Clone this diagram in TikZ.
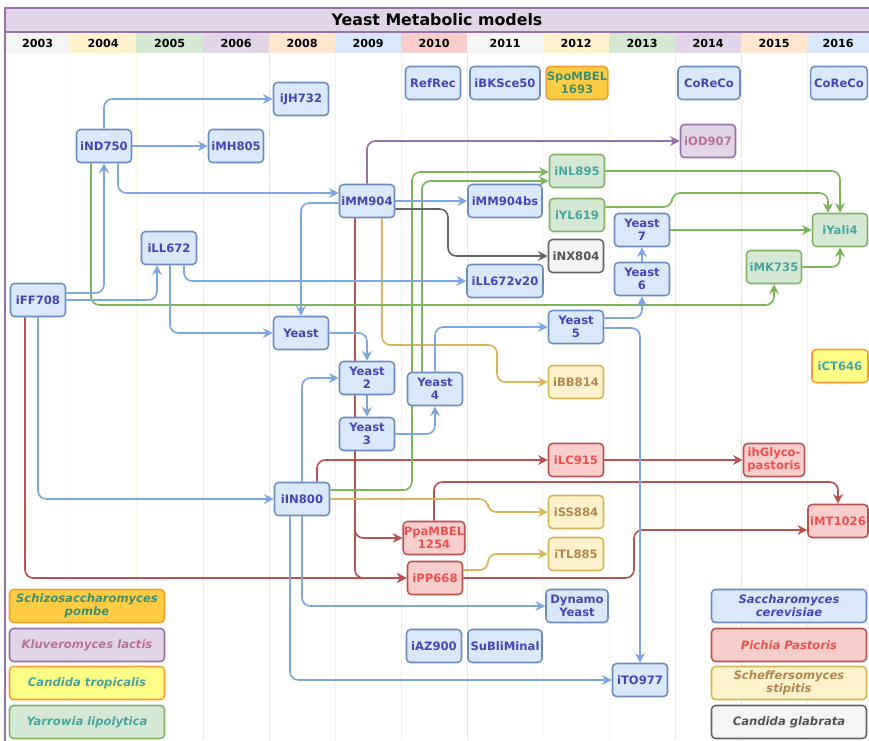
\documentclass[tikz,border=0pt]{standalone}
\usepackage{fontspec}
\setmainfont{DejaVu Sans}
\usepackage{xcolor}
\usepackage{tikz}
\usetikzlibrary{arrows.meta,positioning,calc}

\definecolor{scfill}{HTML}{DAE8FC}
\definecolor{scdraw}{HTML}{6C8EBF}
\definecolor{sctext}{HTML}{4646B4}
\definecolor{scarrow}{HTML}{7EA6E0}
\definecolor{ppfill}{HTML}{F8CECC}
\definecolor{ppdraw}{HTML}{B85450}
\definecolor{pptext}{HTML}{F05050}
\definecolor{ssfill}{HTML}{FFF2CC}
\definecolor{ssdraw}{HTML}{D6B656}
\definecolor{sstext}{HTML}{B08850}
\definecolor{ylfill}{HTML}{D5E8D4}
\definecolor{yldraw}{HTML}{82B366}
\definecolor{yltext}{HTML}{4AA5A0}
\definecolor{ylarrow}{HTML}{7CB65A}
\definecolor{klfill}{HTML}{E1D5E7}
\definecolor{kldraw}{HTML}{9673A6}
\definecolor{kltext}{HTML}{B5739D}
\definecolor{cgfill}{HTML}{F5F5F5}
\definecolor{cgdraw}{HTML}{666666}
\definecolor{cgtext}{HTML}{555555}
\definecolor{spfill}{HTML}{FFCC44}
\definecolor{spdraw}{HTML}{F0A030}
\definecolor{sptext}{HTML}{3F8F6F}
\definecolor{ctfill}{HTML}{FFFF88}
\definecolor{ctdraw}{HTML}{FF9933}
\definecolor{orfill}{HTML}{FFE6CC}

\pgfdeclarelayer{bg}
\pgfdeclarelayer{links}
\pgfsetlayers{bg,links,main}

\newcommand{\modelfont}{\fontsize{9.9}{11}\selectfont\bfseries}
\newcommand{\legendfont}{\fontsize{9.9}{11}\selectfont\bfseries\itshape}

\tikzset{
  model/.style={rectangle, rounded corners=1.2mm, line width=1.3pt, minimum width=16.5mm,
    minimum height=9.9mm, inner sep=0.5pt, align=center, font=\modelfont},
  sc/.style={model, draw=scdraw, fill=scfill, text=sctext},
  pp/.style={model, draw=ppdraw, fill=ppfill, text=pptext},
  ss/.style={model, draw=ssdraw, fill=ssfill, text=sstext},
  yl/.style={model, draw=yldraw, fill=ylfill, text=yltext},
  kl/.style={model, draw=kldraw, fill=klfill, text=kltext},
  cg/.style={model, draw=cgdraw, fill=cgfill, text=cgtext},
  sp/.style={model, draw=spdraw, fill=spfill, text=sptext},
  ct/.style={model, draw=ctdraw, fill=ctfill, text=yltext},
  legend/.style={minimum width=46.5mm, minimum height=9.9mm, font=\legendfont},
  year/.style={font=\fontsize{9.5}{10}\selectfont\bfseries},
  link/.style={line width=1.4pt, rounded corners=2.5mm, -{Stealth[length=2.9mm,width=2.9mm]}},
  sclink/.style={link, draw=scarrow},
  pplink/.style={link, draw=ppdraw},
  sslink/.style={link, draw=ssdraw},
  yllink/.style={link, draw=ylarrow},
  kllink/.style={link, draw=kldraw},
  cglink/.style={link, draw=cgdraw}
}

\begin{document}
\begin{tikzpicture}[x=0.3mm, y=-0.3mm]
    \useasboundingbox (0,0) rectangle (869,740);

    \begin{pgfonlayer}{bg}
    \fill[white] (0,0) rectangle (869,740);
    \foreach \yr/\xa/\xb/\col in {2003/5/70/cgfill, 2004/70/136/ssfill, 2005/136/203/ylfill,
        2006/203/269/klfill, 2008/269/335/orfill, 2009/335/401/scfill, 2010/401/467/ppfill,
        2011/467/543/cgfill, 2012/543/609/ssfill, 2013/609/675/ylfill, 2014/675/741/klfill,
        2015/741/807/orfill, 2016/807/869/scfill} {
      \fill[\col] (\xa,32) rectangle (\xb,53);
      \draw[\col!70, line width=0.8pt] (\xb,53) -- (\xb,740);
      \node[year] (y\yr) at ({(\xa+\xb)/2},43) {\yr};
    }
    \draw[kldraw, fill=klfill, line width=1.3pt] (5,8) rectangle (880,32);
    \draw[kldraw, line width=1.3pt] (5,32) -- (5,742);
    \end{pgfonlayer}
    \node[font=\fontsize{13.5}{15}\selectfont\bfseries] (title) at (437,20) {Yeast Metabolic models};

    \node[sc] (iJH732) at (301,99) {iJH732};
    \node[sc] (RefRec) at (433,83) {RefRec};
    \node[sc, minimum width=21mm] (iBKSce50) at (505,83) {iBKSce50};
    \node[sp, minimum width=18.3mm] (SpoMBEL) at (577,83) {SpoMBEL\\1693};
    \node[sc, minimum width=18.6mm] (CoReCoA) at (709,83) {CoReCo};
    \node[sc, minimum width=17mm] (CoReCoB) at (839,83) {CoReCo};
    \node[sc] (iND750) at (104,146) {iND750};
    \node[sc] (iMH805) at (236,146) {iMH805};
    \node[kl] (iOD907) at (708,141) {iOD907};
    \node[yl] (iNL895) at (577,171) {iNL895};
    \node[sc] (iMM904) at (367,201) {iMM904};
    \node[sc, minimum width=22.2mm] (iMM904bs) at (505,201) {iMM904bs};
    \node[yl] (iYL619) at (577,215) {iYL619};
    \node[sc] (Yeast7) at (642,230) {Yeast\\7};
    \node[yl] (iYali4) at (840,230) {iYali4};
    \node[sc] (iLL672) at (169,248) {iLL672};
    \node[cg] (iNX804) at (576,256) {iNX804};
    \node[yl] (iMK735) at (774,267) {iMK735};
    \node[sc] (Yeast6) at (642,279) {Yeast\\6};
    \node[sc, minimum width=22.8mm] (iLL672v20) at (505,281) {iLL672v20};
    \node[sc] (iFF708) at (38,300) {iFF708};
    \node[sc] (Yeast5) at (576,327) {Yeast\\5};
    \node[sc] (Yeast) at (301,333) {Yeast};
    \node[ct, minimum width=16.8mm] (iCT646) at (840,366) {iCT646};
    \node[sc] (Yeast2) at (367,378) {Yeast\\2};
    \node[ss] (iBB814) at (576,382) {iBB814};
    \node[sc] (Yeast4) at (435,389) {Yeast\\4};
    \node[sc] (Yeast3) at (367,434) {Yeast\\3};
    \node[pp] (iLC915) at (576,460) {iLC915};
    \node[pp, minimum width=18.3mm] (ihGlyco) at (774,460) {ihGlyco-\\pastoris};
    \node[sc] (iIN800) at (302,499) {iIN800};
    \node[ss] (iSS884) at (576,512) {iSS884};
    \node[pp, minimum width=18mm] (iMT1026) at (838,521) {iMT1026};
    \node[pp, minimum width=18mm] (PpaMBEL) at (434,538) {PpaMBEL\\1254};
    \node[ss] (iTL885) at (576,554) {iTL885};
    \node[pp] (iPP668) at (435,578) {iPP668};
    \node[sc, minimum width=18.6mm] (Dynamo) at (577,606) {Dynamo\\Yeast};
    \node[sc] (iAZ900) at (434,646) {iAZ900};
    \node[sc, minimum width=22.2mm] (SuBliMinal) at (505,646) {SuBliMinal};
    \node[sc] (iTO977) at (640,680) {iTO977};

    \node[sp, legend] (Spombe) at (87,606) {Schizosaccharomyces\\pombe};
    \node[kl, legend] (Klactis) at (87,645) {Kluveromyces lactis};
    \node[ct, legend] (Ctropicalis) at (87,683) {Candida tropicalis};
    \node[yl, legend] (Ylipolytica) at (87,722) {Yarrowia lipolytica};
    \node[sc, legend] (Scerevisiae) at (789,606) {Saccharomyces\\cerevisiae};
    \node[pp, legend] (Ppastoris) at (789,645) {Pichia Pastoris};
    \node[ss, legend] (Sstipitis) at (789,683) {Scheffersomyces\\stipitis};
    \node[cg, legend] (Cglabrata) at (789,722) {Candida glabrata};

    \begin{pgfonlayer}{links}
    \draw[pplink] (iFF708.south -| 25,0) |- (iPP668.west);
    \draw[pplink] (iMM904.south -| 355,0) |- (PpaMBEL.west);
    \draw[pplink] (iMM904.south -| 355,0) |- (iPP668.west);
    \draw[pplink] (iIN800.north -| 317,0) |- (iLC915.west);
    \draw[pplink] (iLC915) -- (ihGlyco);
    \draw[pplink] (PpaMBEL.north) |- (iMT1026.north |- 0,482) -- (iMT1026.north);
    \draw[pplink] (iPP668.east) -| (634,530) -- (iMT1026.west |- 0,530);

    \draw[sslink] (iMM904.south -| 382,0) |- (497,345) |- (iBB814.west);
    \draw[sslink] (iIN800.east) -| (488,512) -- (iSS884.west);
    \draw[sslink] (iPP668.east |- 0,570) -| (488,554) -- (iTL885.west);

    \draw[yllink] (iND750.south -| 91,0) |- (iMK735.south |- 0,305) -- (iMK735.south);
    \draw[yllink] (iIN800.east |- 0,490) -| (412,172) -- (iNL895.west |- 0,172);
    \draw[yllink] (Yeast4.north -| 422,0) |- (iNL895.west |- 0,181);
    \draw[yllink] (iNL895.east) -| (iYali4.north);
    \draw[yllink] (iYL619.east |- 0,207) -| (672,193) -| (iYali4.north -| 828,0);
    \draw[yllink] (Yeast7) -- (iYali4);
    \draw[yllink] (iMK735.east) -| (iYali4.south);

    \draw[kllink] (iMM904.north) |- (iOD907.west);
    \draw[cglink] (iMM904.east |- 0,209) -| (448,256) -- (iNX804.west);

    \draw[sclink] (iFF708.east |- 0,293) -| (iND750.south);
    \draw[sclink] (iFF708.east) -| (iLL672.south -| 157,0);
    \draw[sclink] (iND750.north) |- (iJH732.west);
    \draw[sclink] (iND750) -- (iMH805);
    \draw[sclink] (iND750.south -| 118,0) |- (iMM904.west |- 0,193);
    \draw[sclink] (iMM904.west |- 0,203) -| (Yeast.north);
    \draw[sclink] (iLL672.south -| 170,0) |- (Yeast.west);
    \draw[sclink] (iLL672.south -| 184,0) |- (iLL672v20.west);
    \draw[sclink] (iMM904) -- (iMM904bs);
    \draw[sclink] (Yeast.east) -| (Yeast2.north);
    \draw[sclink] (Yeast2) -- (Yeast3);
    \draw[sclink] (Yeast3.east) -| (Yeast4.south);
    \draw[sclink] (Yeast4.north) |- (Yeast5.west);
    \draw[sclink] (Yeast5.east |- 0,318) -| (Yeast6.south);
    \draw[sclink] (Yeast6) -- (Yeast7);
    \draw[sclink] (Yeast5.east |- 0,328) -| (iTO977.north);
    \draw[sclink] (iFF708.south) |- (iIN800.west);
    \draw[sclink] (iIN800.north) |- (Yeast2.west);
    \draw[sclink] (iIN800.south) |- (Dynamo.west);
    \draw[sclink] (iIN800.south -| 290,0) |- (iTO977.west);
    \end{pgfonlayer}
\end{tikzpicture}
\end{document}
